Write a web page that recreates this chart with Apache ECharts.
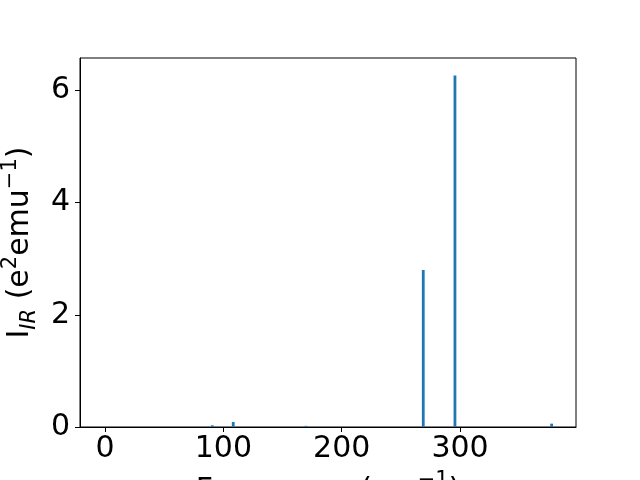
<!DOCTYPE html>
<html>
<head>
<meta charset="utf-8">
<script src="https://cdn.jsdelivr.net/npm/echarts@6/dist/echarts.min.js"></script>
<style>html,body{margin:0;padding:0;background:#fff}#c{width:640px;height:480px}</style>
</head>
<body>
<div id="c"></div>
<script>
const frequencies = [90.6, 108.3, 169.8, 268.9, 295.7, 377.4];
const intensities = [0.03, 0.09, 0.02, 2.80, 6.27, 0.06];
const xTicks = [0, 100, 200, 300];
const yTicks = [0, 2, 4, 6];

const FONT = 'DejaVu Sans';
const chart = echarts.init(document.getElementById('c'), null, {renderer: 'canvas'});
chart.setOption({
  animation: false,
  backgroundColor: '#fff',
  grid: {left: 80, right: 64, top: 58, bottom: 53, outerBoundsMode: 'none', containLabel: false,
         show: true, borderColor: '#000', borderWidth: 1, backgroundColor: 'transparent'},
  xAxis: {
    type: 'value', min: -21.2, max: 398,
    axisLine: {show: true, onZero: false, lineStyle: {color: '#000', width: 1}},
    axisTick: {show: true, length: 5, lineStyle: {color: '#000'}, customValues: xTicks},
    axisLabel: {fontFamily: FONT, fontSize: 30, color: '#000', margin: 7, customValues: xTicks},
    splitLine: {show: false},
    name: '{a|Frequency (cm}{sup|−1}{a|)}',
    nameLocation: 'middle', nameGap: 43,
    nameTextStyle: {
      fontFamily: FONT, fontSize: 30, color: '#000',
      rich: {
        a: {fontFamily: FONT, fontSize: 30, color: '#000', lineHeight: 36, verticalAlign: 'bottom'},
        sup: {fontFamily: FONT, fontSize: 21, color: '#000', lineHeight: 36, verticalAlign: 'top'}
      }
    }
  },
  yAxis: {
    type: 'value', min: 0, max: 6.58, interval: 2,
    axisLine: {show: true, onZero: false, lineStyle: {color: '#000', width: 1}},
    axisTick: {show: true, length: 5, lineStyle: {color: '#000'}, customValues: yTicks},
    axisLabel: {fontFamily: FONT, fontSize: 30, color: '#000', margin: 10, customValues: yTicks},
    splitLine: {show: false},
    name: '{a|I}{sub|IR}{a| (e}{sup|2}{a|emu}{sup|−1}{a|)}',
    nameLocation: 'middle', nameGap: 34, nameRotate: 90,
    nameTextStyle: {
      fontFamily: FONT, fontSize: 30, color: '#000',
      rich: {
        a: {fontFamily: FONT, fontSize: 30, color: '#000', lineHeight: 40, verticalAlign: 'middle'},
        sub: {fontFamily: FONT, fontSize: 21, fontStyle: 'italic', color: '#000', lineHeight: 40, verticalAlign: 'bottom'},
        sup: {fontFamily: FONT, fontSize: 21, color: '#000', lineHeight: 40, verticalAlign: 'top'}
      }
    }
  },
  series: [{
    type: 'bar',
    data: frequencies.map((f, i) => [f, intensities[i]]),
    barWidth: 2.8,
    itemStyle: {color: '#1f77b4'}
  }]
});
</script>
</body>
</html>
